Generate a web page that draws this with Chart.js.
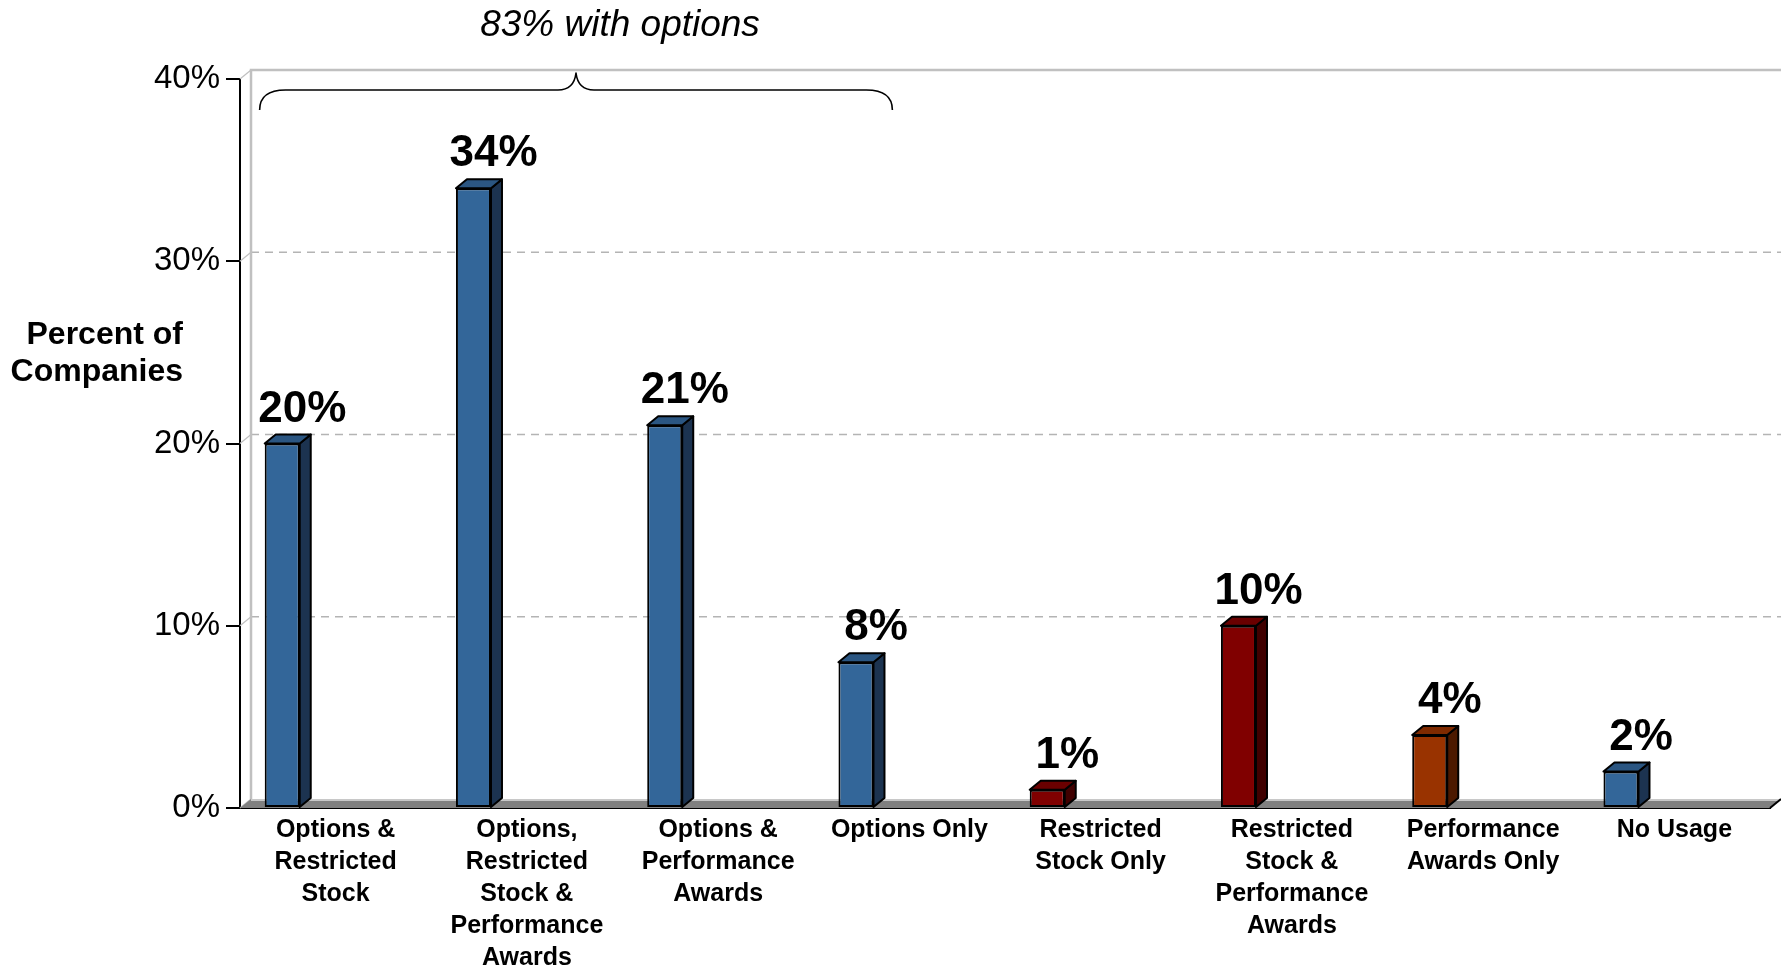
<!DOCTYPE html>
<html>
<head>
<meta charset="utf-8">
<script src="https://cdn.jsdelivr.net/npm/chart.js"></script>
<style>
  body { margin: 0; background: #fff; }
</style>
</head>
<body>
<canvas id="myChart" width="1781" height="968"></canvas>
<script>
// -- Data.
const categories = [
  ['Options &', 'Restricted', 'Stock'],
  ['Options,', 'Restricted', 'Stock &', 'Performance', 'Awards'],
  ['Options &', 'Performance', 'Awards'],
  ['Options Only'],
  ['Restricted', 'Stock Only'],
  ['Restricted', 'Stock &', 'Performance', 'Awards'],
  ['Performance', 'Awards Only'],
  ['No Usage'],
];
const percent_of_companies = [20, 34, 21, 8, 1, 10, 4, 2];
const award_group = ['options', 'options', 'options', 'options', 'restricted', 'restricted', 'performance', 'none'];
const y_ticks = [0, 10, 20, 30, 40];
const brace_label = '83% with options';
const y_title = ['Percent of', 'Companies'];

// -- Face colours per group: front, side, top.
const palette = {
  options:     ['#336699', '#1c3350', '#2b5682'],
  none:        ['#336699', '#1c3350', '#2b5682'],
  restricted:  ['#800000', '#400000', '#6a0000'],
  performance: ['#993300', '#4c1900', '#7f2a00'],
};

// -- 3D depth of the "Excel" look.
const DX = 11, DY = 9;

const draw_brace = (ctx, x0, x1, y_tip, y_end) => {
  const mid = (x0 + x1) / 2;
  const y_line = y_tip + 17;
  ctx.beginPath();
  ctx.moveTo(x0, y_end);
  ctx.quadraticCurveTo(x0, y_line, x0 + 26, y_line);
  ctx.lineTo(mid - 18, y_line);
  ctx.quadraticCurveTo(mid - 2, y_line, mid, y_tip);
  ctx.quadraticCurveTo(mid + 2, y_line, mid + 18, y_line);
  ctx.lineTo(x1 - 26, y_line);
  ctx.quadraticCurveTo(x1, y_line, x1, y_end);
  ctx.stroke();
};

// -- Back wall, floor and dashed grid, drawn behind the bars.
const wall_plugin = {
  id: 'wall',
  beforeDatasetsDraw(chart) {
    const {ctx, chartArea: {left, right, top, bottom}, scales: {y}} = chart;
    const wall_right = chart.width;
    ctx.save();

    // -- Dashed grid on the back wall.
    ctx.strokeStyle = '#b4b4b4';
    ctx.lineWidth = 1.5;
    ctx.setLineDash([8, 6]);
    y_ticks.slice(1, -1).forEach(v => {
      const py = y.getPixelForValue(v) - DY;
      ctx.beginPath();
      ctx.moveTo(left + DX, py);
      ctx.lineTo(wall_right, py);
      ctx.stroke();
    });
    ctx.setLineDash([]);

    // -- Top edge and left edge of the back wall.
    ctx.strokeStyle = '#c0c0c0';
    ctx.lineWidth = 2.5;
    ctx.beginPath();
    ctx.moveTo(wall_right, top - DY);
    ctx.lineTo(left + DX, top - DY);
    ctx.lineTo(left + DX, bottom - DY);
    ctx.stroke();

    // -- Short diagonals from the axis ticks to the wall.
    ctx.lineWidth = 1.2;
    y_ticks.forEach(v => {
      const py = y.getPixelForValue(v);
      ctx.beginPath();
      ctx.moveTo(left, py);
      ctx.lineTo(left + DX, py - DY);
      ctx.stroke();
    });

    // -- Floor.
    ctx.fillStyle = '#808080';
    ctx.beginPath();
    ctx.moveTo(left, bottom);
    ctx.lineTo(left + DX, bottom - DY);
    ctx.lineTo(right + DX, bottom - DY);
    ctx.lineTo(right, bottom);
    ctx.closePath();
    ctx.fill();
    ctx.strokeStyle = '#c8c8c8';
    ctx.lineWidth = 2;
    ctx.beginPath();
    ctx.moveTo(left + DX, bottom - DY + 1);
    ctx.lineTo(right + DX, bottom - DY + 1);
    ctx.stroke();
    ctx.strokeStyle = '#000';
    ctx.lineWidth = 2;
    ctx.beginPath();
    ctx.moveTo(right, bottom);
    ctx.lineTo(right + DX, bottom - DY);
    ctx.stroke();

    ctx.restore();
  },
};

// -- Side and top faces of each bar, value labels, brace and texts.
const extrude_plugin = {
  id: 'extrude',
  afterDatasetsDraw(chart) {
    const {ctx, scales: {x}} = chart;
    const meta = chart.getDatasetMeta(0);
    ctx.save();
    ctx.lineWidth = 2;
    ctx.strokeStyle = '#000';
    ctx.lineJoin = 'round';
    meta.data.forEach((bar, i) => {
      const {x: cx, y: ty, base, width} = bar.getProps(['x', 'y', 'base', 'width'], true);
      const l = cx - width / 2, r = cx + width / 2;
      const [, side, topc] = palette[award_group[i]];

      // -- Side face.
      ctx.fillStyle = side;
      ctx.beginPath();
      ctx.moveTo(r, ty);
      ctx.lineTo(r + DX, ty - DY);
      ctx.lineTo(r + DX, base - DY);
      ctx.lineTo(r, base);
      ctx.closePath();
      ctx.fill();
      ctx.stroke();

      // -- Top face.
      ctx.fillStyle = topc;
      ctx.beginPath();
      ctx.moveTo(l, ty);
      ctx.lineTo(l + DX, ty - DY);
      ctx.lineTo(r + DX, ty - DY);
      ctx.lineTo(r, ty);
      ctx.closePath();
      ctx.fill();
      ctx.stroke();

      // -- Value label.
      ctx.fillStyle = '#000';
      ctx.font = 'bold 44px "Liberation Sans", Arial, sans-serif';
      ctx.textAlign = 'center';
      ctx.textBaseline = 'alphabetic';
      ctx.fillText(percent_of_companies[i] + '%', cx + 20, ty - 22);
    });

    // -- Brace over the option categories.
    const x0 = x.getPixelForValue(0) - 76;
    const x1 = x.getPixelForValue(3) - 17;
    ctx.lineWidth = 1.6;
    draw_brace(ctx, x0, x1, 73, 110);
    ctx.font = 'italic 37px "Liberation Sans", Arial, sans-serif';
    ctx.textAlign = 'center';
    ctx.fillText(brace_label, 620, 36);

    // -- Horizontal y-axis title, right aligned.
    ctx.font = 'bold 32px "Liberation Sans", Arial, sans-serif';
    ctx.textAlign = 'right';
    ctx.textBaseline = 'middle';
    y_title.forEach((line, k) => ctx.fillText(line, 183, 335 + k * 37));

    ctx.restore();
  },
};

const chart = new Chart(
  document.getElementById('myChart'),
  {
    type: 'bar',
    data: {
      labels: categories,
      datasets: [{
        data: percent_of_companies,
        backgroundColor: award_group.map(g => palette[g][0]),
        borderColor: '#000',
        borderWidth: 2,
        borderSkipped: false,
        categoryPercentage: 1.117, // -- With the empty second set, pushes the bar to the left of its slot.
        barPercentage: 0.328,
      }, {
        // -- Empty spacer set so the bars sit left of the category centre.
        data: categories.map(() => null),
        categoryPercentage: 1.117,
        barPercentage: 0.328,
      }],
    },
    options: {
      responsive: false,
      animation: false,
      layout: { padding: { top: 79, right: 11, left: 0, bottom: 0 } },
      plugins: {
        legend: { display: false },
        tooltip: { enabled: false },
      },
      scales: {
        x: {
          grid: { display: false, drawTicks: false },
          border: { display: true, color: '#000', width: 2 },
          ticks: {
            color: '#000',
            font: { family: '"Liberation Sans", Arial, sans-serif', size: 25, weight: 'bold', lineHeight: 1.28 },
            padding: 6,
            maxRotation: 0,
            autoSkip: false,
          },
          afterFit: (scale) => { scale.height = 160; },
        },
        y: {
          min: 0,
          max: 40,
          ticks: {
            stepSize: 10,
            color: '#000',
            padding: 6,
            font: { family: '"Liberation Sans", Arial, sans-serif', size: 33 },
            callback: (v) => v + '%',
          },
          grid: { drawOnChartArea: false, drawTicks: true, tickLength: 14, color: '#000', lineWidth: 2 },
          border: { display: true, color: '#000', width: 2 },
          afterFit: (scale) => { scale.width = 240; },
        },
      },
    },
    plugins: [wall_plugin, extrude_plugin],
  }
);
</script>
</body>
</html>
